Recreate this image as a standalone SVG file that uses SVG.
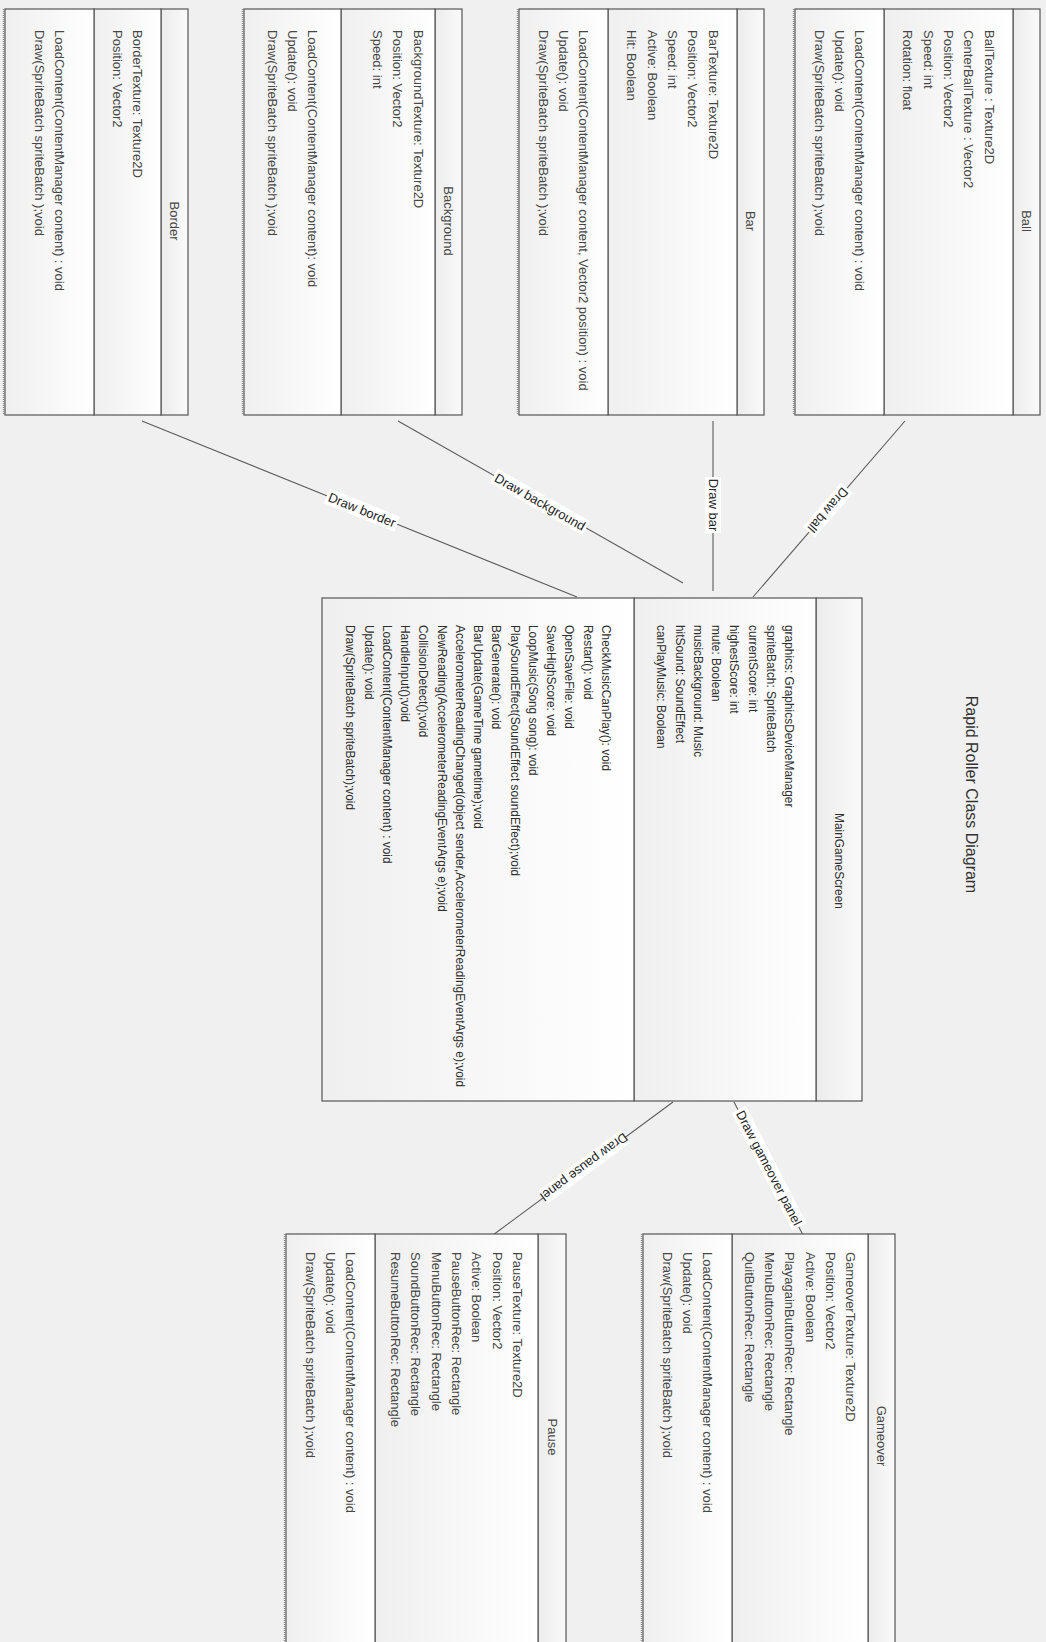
<svg xmlns="http://www.w3.org/2000/svg" width="1046" height="1642" viewBox="0 0 1046 1642">
<style>
  .sec{stroke:#555;stroke-width:1.2;fill:url(#secFill)}
  .hdr{stroke:#555;stroke-width:1.2;fill:url(#hdrFill)}
  .shadow{stroke:#8a8a8a;stroke-width:1.4;stroke-dasharray:1 1;fill:none}
  text{font-family:"Liberation Sans",Arial,sans-serif;dominant-baseline:central}
  .t{font-size:13px;fill:#474747}
  .tm{font-size:11.9px;fill:#2e2e2e}
  .ttl{text-anchor:middle}
  .conn{stroke:#5c5c5c;stroke-width:1.1;fill:none}
  .lbl rect{fill:#fff}
  .lbl text{font-size:13px;fill:#262626;text-anchor:middle}
  .title{font-size:16px;fill:#333;text-anchor:middle}
</style>
<defs>
  <linearGradient id="secFill" x1="0" y1="0" x2="0" y2="1">
    <stop offset="0" stop-color="#ffffff"/>
    <stop offset="1" stop-color="#efefef"/>
  </linearGradient>
  <linearGradient id="hdrFill" x1="0" y1="0" x2="0" y2="1">
    <stop offset="0" stop-color="#fafafa"/>
    <stop offset="1" stop-color="#ececec"/>
  </linearGradient>
</defs>
<rect width="1046" height="1642" fill="#f0f0f0"/>

<!-- whole class diagram is laid out in landscape and turned a quarter clockwise -->
<g transform="translate(1046 0) rotate(90)">

  <g id="connectors">
    <line class="conn" x1="421" y1="904" x2="597" y2="469"/>
    <line class="conn" x1="421" y1="648" x2="583" y2="363"/>
    <line class="conn" x1="421" y1="333" x2="591" y2="333"/>
    <line class="conn" x1="421" y1="141" x2="597" y2="293"/>
    <line class="conn" x1="1102" y1="373" x2="1235" y2="553"/>
    <line class="conn" x1="1102" y1="312" x2="1235" y2="243"/>
    <g class="lbl" transform="translate(510 684) rotate(-68)"><rect x="-38" y="-8" width="76" height="16"/><text>Draw border</text></g>
    <g class="lbl" transform="translate(502 506) rotate(-60.4)"><rect x="-53" y="-8" width="106" height="16"/><text>Draw background</text></g>
    <g class="lbl" transform="translate(505 333)"><rect x="-28" y="-8" width="56" height="16"/><text>Draw bar</text></g>
    <g class="lbl" transform="translate(510 218) rotate(40.8)"><rect x="-29" y="-8" width="58" height="16"/><text>Draw ball</text></g>
    <g class="lbl" transform="translate(1167 462) rotate(53.5)"><rect x="-51" y="-8" width="102" height="16"/><text>Draw pause panel</text></g>
    <g class="lbl" transform="translate(1168 277) rotate(-27.4)"><rect x="-66" y="-8" width="132" height="16"/><text>Draw gameover panel</text></g>
  </g>

  <g id="Ball">
    <line class="shadow" x1="9" y1="252.5" x2="415" y2="252.5"/>
    <rect class="hdr" x="9" y="6" width="406" height="27"/>
    <rect class="sec" x="9" y="33" width="406" height="129"/>
    <rect class="sec" x="9" y="162" width="406" height="89"/>
    <text class="t ttl" x="221" y="19.5">Ball</text>
    <text class="t" x="30" y="57">BallTexture : Texture2D</text>
    <text class="t" x="30" y="77.3">CenterBallTexture : Vector2</text>
    <text class="t" x="30" y="97.6">Position: Vector2</text>
    <text class="t" x="30" y="117.9">Speed: int</text>
    <text class="t" x="30" y="138.2">Rotation: float</text>
    <text class="t" x="30" y="186.2">LoadContent(ContentManager content) : void</text>
    <text class="t" x="30" y="206.5">Update(): void</text>
    <text class="t" x="30" y="226.8">Draw(SpriteBatch spriteBatch );void</text>
  </g>

  <g id="Bar">
    <line class="shadow" x1="9" y1="528.5" x2="415" y2="528.5"/>
    <rect class="hdr" x="9" y="282" width="406" height="27"/>
    <rect class="sec" x="9" y="309" width="406" height="129"/>
    <rect class="sec" x="9" y="438" width="406" height="89"/>
    <text class="t ttl" x="221" y="295.5">Bar</text>
    <text class="t" x="30" y="333">BarTexture: Texture2D</text>
    <text class="t" x="30" y="353.3">Position: Vector2</text>
    <text class="t" x="30" y="373.6">Speed: int</text>
    <text class="t" x="30" y="393.9">Active: Boolean</text>
    <text class="t" x="30" y="414.2">Hit: Boolean</text>
    <text class="t" x="30" y="462.2">LoadContent(ContentManager content, Vector2 position) : void</text>
    <text class="t" x="30" y="482.5">Update(): void</text>
    <text class="t" x="30" y="502.8">Draw(SpriteBatch spriteBatch );void</text>
  </g>

  <g id="Background">
    <line class="shadow" x1="9" y1="803.5" x2="415" y2="803.5"/>
    <rect class="hdr" x="9" y="584" width="406" height="27"/>
    <rect class="sec" x="9" y="611" width="406" height="94"/>
    <rect class="sec" x="9" y="705" width="406" height="97"/>
    <text class="t ttl" x="221" y="597.5">Background</text>
    <text class="t" x="30" y="628">BackgroundTexture: Texture2D</text>
    <text class="t" x="30" y="648.3">Position: Vector2</text>
    <text class="t" x="30" y="668.6">Speed: int</text>
    <text class="t" x="30" y="733.2">LoadContent(ContentManager content): void</text>
    <text class="t" x="30" y="753.5">Update(): void</text>
    <text class="t" x="30" y="773.8">Draw(SpriteBatch spriteBatch );void</text>
  </g>

  <g id="Border">
    <line class="shadow" x1="9" y1="1042.5" x2="415" y2="1042.5"/>
    <rect class="hdr" x="9" y="858" width="406" height="27"/>
    <rect class="sec" x="9" y="885" width="406" height="67"/>
    <rect class="sec" x="9" y="952" width="406" height="89"/>
    <text class="t ttl" x="221" y="871.5">Border</text>
    <text class="t" x="30" y="908.4">BorderTexture: Texture2D</text>
    <text class="t" x="30" y="928.7">Position: Vector2</text>
    <text class="t" x="30" y="986.4">LoadContent(ContentManager content) : void</text>
    <text class="t" x="30" y="1006.7">Draw(SpriteBatch spriteBatch );void</text>
  </g>

  <g id="MainGameScreen">
    <rect class="hdr" x="598" y="184" width="503" height="46"/>
    <rect class="sec" x="598" y="230" width="503" height="182"/>
    <rect class="sec" x="598" y="412" width="503" height="312"/>
    <text class="tm ttl" x="861" y="207">MainGameScreen</text>
    <text class="tm" x="625" y="257">graphics: GraphicsDeviceManager</text>
    <text class="tm" x="625" y="275.25">spriteBatch: SpriteBatch</text>
    <text class="tm" x="625" y="293.5">currentScore: int</text>
    <text class="tm" x="625" y="311.75">highestScore: int</text>
    <text class="tm" x="625" y="330">mute: Boolean</text>
    <text class="tm" x="625" y="348.25">musicBackground: Music</text>
    <text class="tm" x="625" y="366.5">hitSound: SoundEffect</text>
    <text class="tm" x="625" y="384.75">canPlayMusic: Boolean</text>
    <text class="tm" x="625" y="440.25">CheckMusicCanPlay(): void</text>
    <text class="tm" x="625" y="458.5">Restart(): void</text>
    <text class="tm" x="625" y="476.75">OpenSaveFile: void</text>
    <text class="tm" x="625" y="495">SaveHighScore: void</text>
    <text class="tm" x="625" y="513.25">LoopMusic(Song song): void</text>
    <text class="tm" x="625" y="531.5">PlaySoundEffect(SoundEffect soundEffect);void</text>
    <text class="tm" x="625" y="549.75">BarGenerate(): void</text>
    <text class="tm" x="625" y="568">BarUpdate(GameTime gametime);void</text>
    <text class="tm" x="625" y="586.25">AccelerometerReadingChanged(object sender,AccelerometerReadingEventArgs e);void</text>
    <text class="tm" x="625" y="604.5">NewReading(AccelerometerReadingEventArgs e);void</text>
    <text class="tm" x="625" y="622.75">CollisionDetect();void</text>
    <text class="tm" x="625" y="641">HandleInput();void</text>
    <text class="tm" x="625" y="659.25">LoadContent(ContentManager content) : void</text>
    <text class="tm" x="625" y="677.5">Update(): void</text>
    <text class="tm" x="625" y="695.75">Draw(SpriteBatch spriteBatch);void</text>
  </g>

  <g id="Gameover">
    <line class="shadow" x1="1234" y1="404.5" x2="1660" y2="404.5"/>
    <rect class="hdr" x="1234" y="151" width="426" height="27"/>
    <rect class="sec" x="1234" y="178" width="426" height="136"/>
    <rect class="sec" x="1234" y="314" width="426" height="89"/>
    <text class="t ttl" x="1436" y="164.5">Gameover</text>
    <text class="t" x="1252" y="195.3">GameoverTexture: Texture2D</text>
    <text class="t" x="1252" y="215.6">Position: Vector2</text>
    <text class="t" x="1252" y="235.9">Active: Boolean</text>
    <text class="t" x="1252" y="256.2">PlayagainButtonRec: Rectangle</text>
    <text class="t" x="1252" y="276.5">MenuButtonRec: Rectangle</text>
    <text class="t" x="1252" y="296.8">QuitButtonRec: Rectangle</text>
    <text class="t" x="1252" y="338.2">LoadContent(ContentManager content) : void</text>
    <text class="t" x="1252" y="358.5">Update(): void</text>
    <text class="t" x="1252" y="378.8">Draw(SpriteBatch spriteBatch );void</text>
  </g>

  <g id="Pause">
    <line class="shadow" x1="1234" y1="761.5" x2="1660" y2="761.5"/>
    <rect class="hdr" x="1234" y="480" width="426" height="28"/>
    <rect class="sec" x="1234" y="508" width="426" height="163"/>
    <rect class="sec" x="1234" y="671" width="426" height="89"/>
    <text class="t ttl" x="1437" y="494">Pause</text>
    <text class="t" x="1252" y="528.6">PauseTexture: Texture2D</text>
    <text class="t" x="1252" y="548.9">Position: Vector2</text>
    <text class="t" x="1252" y="569.2">Active: Boolean</text>
    <text class="t" x="1252" y="589.5">PauseButtonRec: Rectangle</text>
    <text class="t" x="1252" y="609.8">MenuButtonRec: Rectangle</text>
    <text class="t" x="1252" y="630.1">SoundButtonRec: Rectangle</text>
    <text class="t" x="1252" y="650.4">ResumeButtonRec: Rectangle</text>
    <text class="t" x="1252" y="695.2">LoadContent(ContentManager content) : void</text>
    <text class="t" x="1252" y="715.5">Update(): void</text>
    <text class="t" x="1252" y="735.8">Draw(SpriteBatch spriteBatch );void</text>
  </g>

  <text class="title" x="794.5" y="75">Rapid Roller Class Diagram</text>
</g>
</svg>
